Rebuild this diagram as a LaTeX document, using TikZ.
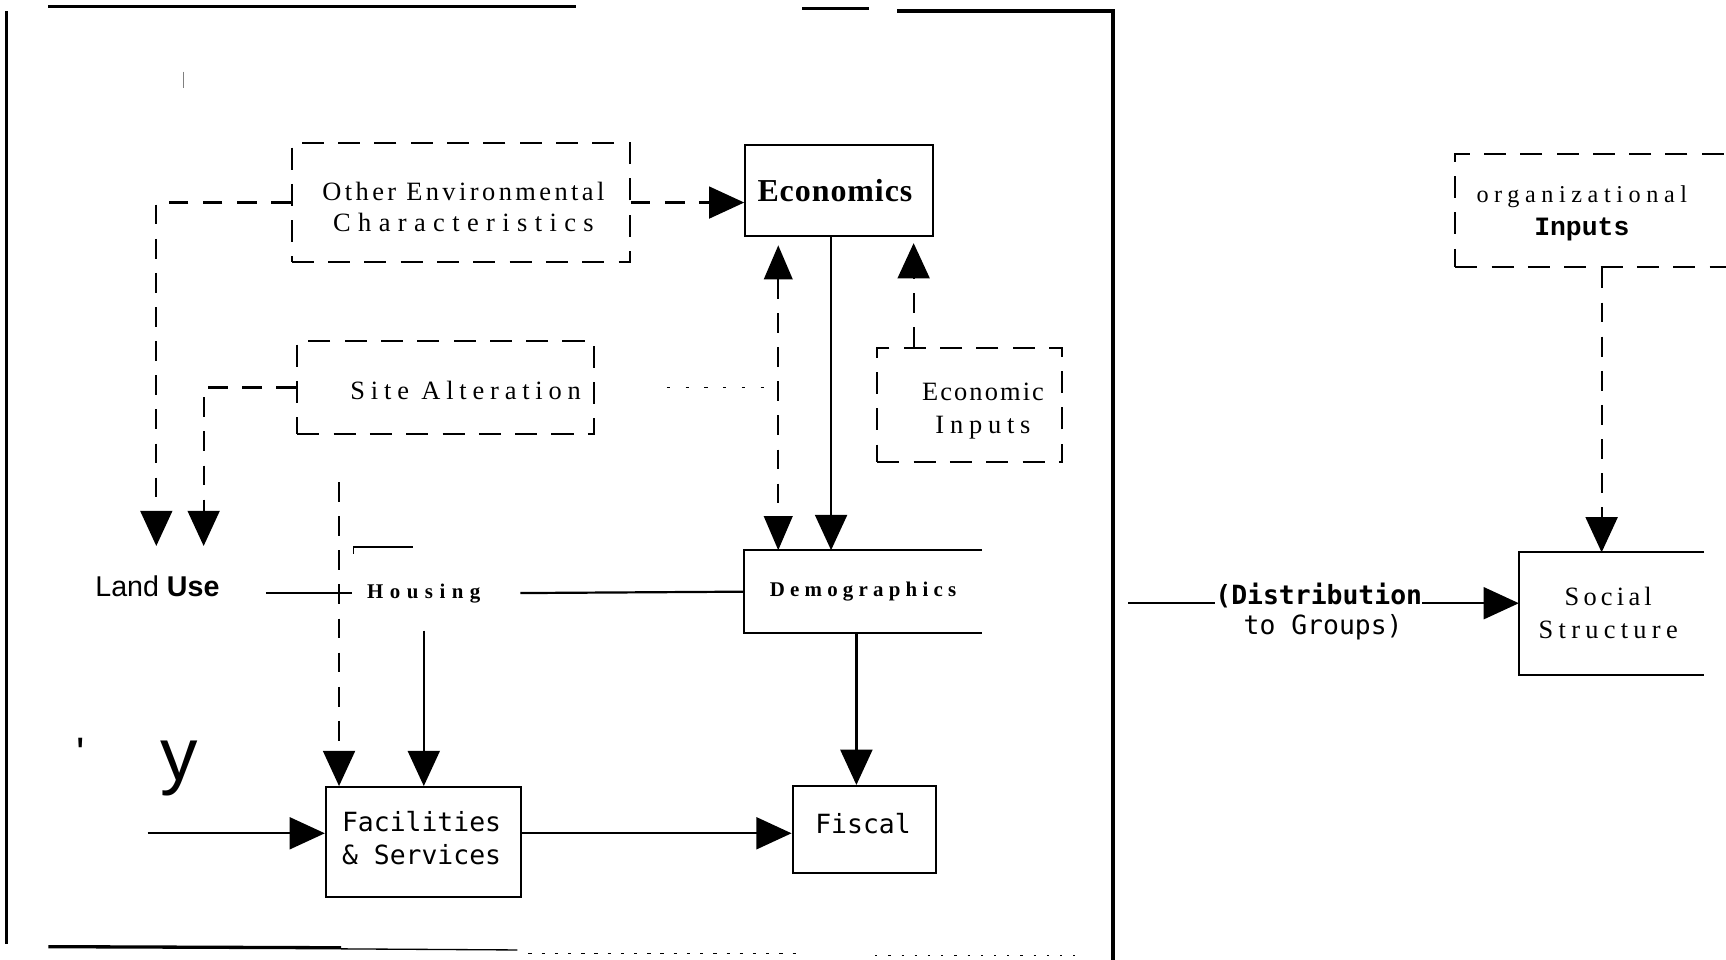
\documentclass[tikz,border=0pt]{standalone}
\usepackage{fontspec}
\setmainfont{Liberation Serif}
\newfontfamily\monof{DejaVu Sans Mono}
\newfontfamily\courf{Liberation Mono}
\newfontfamily\sansf{Liberation Sans}
\usetikzlibrary{arrows.meta}
% letter-spaced text: \ls{amount}{text}
\newcommand\ls[2]{{\addfontfeature{LetterSpace=#1}#2}}
\newcommand\fsz[2]{\fontsize{#1}{#2}\selectfont}

\begin{document}
\begin{tikzpicture}[x=1pt,y=-1pt,
  box/.style={draw, line width=1.8pt, inner sep=0pt},
  dbox/.style={box, dash pattern=on 20pt off 13pt},
  wire/.style={line width=2pt},
  dwire/.style={wire, dash pattern=on 18pt off 13pt},
  tip/.style={-{Triangle[length=32pt,width=29pt]}},
  tips/.style={{Triangle[length=31pt,width=26pt]}-{Triangle[length=31pt,width=26pt]}},
  frame/.style={line width=3pt},
  txt/.style={inner sep=0pt, align=center}]
\useasboundingbox (0,0) rectangle (1568,872);

% page frame
\draw[frame] (44,6) -- (523,6);
\draw[frame] (729,8) -- (789,8);
\draw[frame] (815,10) -- (1011,10) -- (1011,872);
\draw[frame] (6,10) -- (6,858);
\draw[frame] (44,860) -- (310,861);
\draw[line width=1.2pt] (310,862) -- (470,863);
\draw[line width=1.4pt, dash pattern=on 3pt off 9pt] (480,866) -- (725,866);
\draw[line width=1.5pt, dash pattern=on 2pt off 10pt] (795,868) -- (982,868);
\draw[gray, line width=1pt] (167,65) -- (167,80);

% boxes
\node[dbox, minimum width=307pt, minimum height=108pt] (env) at (418.5,184) {};
\node[txt, font=\fsz{24}{29}] (envt) at (421,188)
  {\ls{13}{Other\ Environmental}\\\ls{28}{Characteristics}};

\node[box, minimum width=171pt, minimum height=82pt,
  font=\bfseries\fsz{29}{34}] (econ) at (762.5,173) {\ls{3}{Economics}\hspace*{8pt}};

\node[dbox, minimum width=168pt, minimum height=104pt] (einp) at (881,368) {};
\node[txt, font=\fsz{24}{30}] (einpt) at (893,373)
  {\ls{8}{Economic}\\\ls{22}{Inputs}};

\node[dbox, minimum width=270pt, minimum height=84pt] (site) at (405,352) {};
\node[txt, font=\fsz{24}{29}] (sitet) at (423,355) {\ls{22}{Site\ Alteration}};

\node[txt, font=\sansf\fsz{26}{30}] (landuse) at (143,533) {Land \textbf{Use}};
\node[txt, font=\bfseries\fsz{19}{24}] (housing) at (385,539) {\ls{31}{Housing}};
\draw[line width=1.2pt] (321,503) -- (321,497) -- (375,497);

\node[minimum width=216pt, minimum height=75pt, inner sep=0pt,
  font=\bfseries\fsz{19}{24}] (demo) at (784,537.5) {\ls{25}{Demographics}};
\draw[line width=1.8pt] (demo.north east) -- (demo.north west)
  -- (demo.south west) -- (demo.south east);

\node[box, minimum width=177pt, minimum height=100pt] (fac) at (384.5,765) {};
\node[txt, font=\monof\fsz{24}{30}] (fact) at (383,761) {Facilities\\\& Services};

\node[box, minimum width=130pt, minimum height=79pt] (fisc) at (785,753.5) {};
\node[txt, font=\monof\fsz{24}{30}] (fisct) at (784,748) {Fiscal};

\node[txt, font=\monof\bfseries\fsz{24}{30}] (dist1) at (1198,541) {(Distribution};
\node[txt, font=\monof\fsz{24}{30}] (dist2) at (1202,570) {to Groups)};

\node[minimum width=168pt, minimum height=111pt, inner sep=0pt] (soc) at (1464,557.5) {};
\draw[line width=1.8pt] (soc.north east) -- (soc.north west)
  -- (soc.south west) -- (soc.south east);
\node[txt, font=\fsz{24}{30}] (soct) at (1461,557) {\ls{16}{Social}\\\ls{20}{Structure}};

\node[dbox, minimum width=252pt, minimum height=103pt] (org) at (1448,191.5) {};
\node[txt, font=\fsz{22}{30}] (orgt) at (1437,194)
  {\ls{23}{organizational}\\{\courf\bfseries\fsz{24}{30}Inputs}};

% stray marks
\node[txt, font=\sansf\fsz{68}{70}] (ymark) at (163,698) {y};
\node[txt, font=\sansf\fsz{40}{40}] (qmark) at (73,684) {'};

% connectors
\coordinate (lu1) at (142,496);
\coordinate (lu2) at (185,496);
\draw[dwire, tip] (env.west) -| (lu1);
\draw[dwire, tip] (site.west) -| (lu2);
\draw[dwire, tip] (env.east) -- (econ.west |- env.east);
\draw[wire, tip] ([xshift=-7.5pt]econ.south) -- ([xshift=-7.5pt]econ.south |- demo.north);
\draw[dwire, tips, shorten <=8pt] ([xshift=-55.5pt]econ.south)
  -- ([xshift=-55.5pt]econ.south |- demo.north);
\draw[dwire, tip, shorten >=6pt] ([xshift=-51pt]einp.north)
  -- ([xshift=-51pt]einp.north |- econ.south);
\draw[line width=1.5pt, dash pattern=on 3pt off 14pt, shorten <=65pt]
  (site.east) -- ([xshift=-55.5pt]econ.south |- site.east);
\draw[dwire, tip, shorten <=43pt] ([xshift=-97pt]site.south)
  -- ([xshift=-97pt]site.south |- fac.north);
\draw[wire, shorten <=42pt] (landuse.east |- housing.west) -- ([xshift=-14pt]housing.west);
\draw[wire, shorten <=36pt] (housing.east) -- (demo.west);
\draw[wire, tip, shorten <=25pt] (housing.south) -- (housing.south |- fac.north);
\draw[wire, tip] ([xshift=-6pt]demo.south) -- ([xshift=-6pt]demo.south |- fisc.north);
\coordinate (facin) at (134,757);
\draw[wire, tip] (facin) -- (fac.west |- facin);
\draw[wire, tip] (fac.east |- facin) -- (fisc.west |- facin);
\coordinate (distin) at (1025,548);
\draw[wire] (distin) -- (distin -| dist1.west);
\draw[wire, tip] (distin -| dist1.east) -- (distin -| soc.west);
\draw[dwire, tip] ([xshift=7pt]org.south) -- ([xshift=7pt]org.south |- soc.north);
\end{tikzpicture}
\end{document}
